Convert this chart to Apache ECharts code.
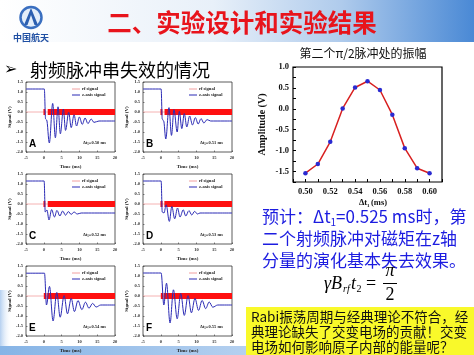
<!DOCTYPE html>
<html><head><meta charset="utf-8">
<script src="https://cdn.jsdelivr.net/npm/echarts@6/dist/echarts.min.js"></script>
<style>html,body{margin:0;padding:0;background:#fff}#c{width:474px;height:355px}</style>
</head><body><div id="c"></div>
<script>
// ---- main chart data ----
const dt1 = [0.50, 0.51, 0.52, 0.53, 0.54, 0.55, 0.56, 0.57, 0.58, 0.59, 0.60];
const amplitude = [-1.54, -1.32, -0.79, 0.01, 0.51, 0.66, 0.45, -0.14, -0.94, -1.42, -1.54];

// ---- small panels data ----
const panelLetters = ['A', 'B', 'C', 'D', 'E', 'F'];
const panelDt = ['0.50', '0.51', '0.52', '0.53', '0.54', '0.55'];

const timeA = [-5, 0.15, 0.5, 0.8, 1.55, 2.5, 3.25, 4.0, 4.65, 5.5, 6.1, 7.0, 7.7, 8.5, 9.2, 10.0, 10.8, 11.6, 12.4, 13.3, 14.1, 15.5, 20];
const signalA = [1.15, 1.15, -0.35, -0.4, -1.55, 0.43, -1.29, 0.26, -1.09, 0.15, -0.92, -0.02, -0.78, -0.14, -0.7, -0.25, -0.62, -0.3, -0.58, -0.35, -0.52, -0.45, -0.45];
const timeB = [-5, 0.1, 0.4, 0.8, 1.4, 2.3, 3.0, 3.7, 4.6, 5.2, 5.9, 6.6, 7.3, 8.1, 8.9, 9.7, 10.5, 11.3, 12.1, 13, 14, 20];
const signalB = [1.15, 1.15, -0.35, -0.45, -1.35, 0.22, -1.17, 0.12, -1.0, 0.03, -0.83, -0.08, -0.75, -0.2, -0.65, -0.28, -0.6, -0.33, -0.55, -0.38, -0.45, -0.45];
const timeC = [-5, 0.1, 0.4, 0.9, 1.45, 2.2, 3.0, 3.7, 4.5, 5.3, 6.1, 6.9, 7.7, 8.5, 9.4, 10.5, 20];
const signalC = [1.15, 1.15, -0.4, -0.3, -0.8, -0.28, -0.65, -0.32, -0.6, -0.35, -0.56, -0.38, -0.52, -0.4, -0.5, -0.45, -0.45];
const timeD = [-5, 0.1, 0.4, 0.9, 1.5, 2.4, 3.1, 3.9, 4.7, 5.4, 6.3, 7.0, 7.9, 8.7, 9.5, 10.3, 11, 20];
const signalD = [1.15, 1.15, -0.4, -0.45, -0.04, -0.87, -0.12, -0.74, -0.2, -0.65, -0.29, -0.6, -0.33, -0.55, -0.37, -0.5, -0.45, -0.45];
const timeE = [-5, 0.2, 0.75, 1.6, 2.6, 3.65, 4.6, 5.7, 6.65, 7.7, 8.6, 9.6, 10.7, 11.7, 12.7, 13.7, 14.7, 16, 20];
const signalE = [1.14, 1.14, -0.45, 0.48, -1.25, 0.18, -1.06, 0.02, -0.89, -0.12, -0.78, -0.23, -0.68, -0.31, -0.61, -0.37, -0.55, -0.45, -0.45];
const timeF = [-5, 0.1, 0.85, 1.6, 2.6, 3.55, 4.6, 5.6, 6.6, 7.65, 8.6, 9.6, 10.6, 11.6, 12.6, 13.6, 14.6, 16, 20];
const signalF = [1.15, 1.15, -0.45, 0.64, -1.35, 0.31, -1.14, 0.13, -0.97, 0.02, -0.84, -0.12, -0.72, -0.22, -0.63, -0.3, -0.56, -0.45, -0.45];

const rfPulse = [[-0.1, 0.45], [-0.1, 0.45], [-0.1, 0.45], [-0.1, 0.5], [0.0, 0.75], [0.0, 0.75]];
const rfTrain = [[1.1, 20], [1.05, 20], [1.1, 20], [1.0, 20], [0.95, 20], [0.9, 20]];
const rfBase = [-5, 20];

const panelTimes = [timeA, timeB, timeC, timeD, timeE, timeF];
const panelSignals = [signalA, signalB, signalC, signalD, signalE, signalF];

// ---- layout ----
const colLeft = [26, 143];
const rowTop = [82, 174, 266];
const pW = 89, pH = 70;

const chart = echarts.init(document.getElementById('c'), null, {renderer: 'canvas'});
const serif = "'Liberation Serif', 'Times New Roman', serif";
const cjk = "'Noto Sans CJK SC', sans-serif";

const grids = [], xAxes = [], yAxes = [], series = [], graphics = [];

// background pieces
graphics.push({
  type: 'rect', z: -10, silent: true,
  shape: {x: 0, y: 0, width: 474, height: 42},
  style: {fill: new echarts.graphic.LinearGradient(0, 0, 1, 0, [
    {offset: 0, color: '#ffffff'}, {offset: 0.45, color: '#e8f0f9'},
    {offset: 0.72, color: '#afcbec'}, {offset: 1, color: '#4a89d5'}])}
});
graphics.push({
  type: 'rect', z: -10, silent: true,
  shape: {x: 0, y: 346, width: 474, height: 9},
  style: {fill: new echarts.graphic.LinearGradient(0, 0, 1, 0, [
    {offset: 0, color: '#86b4e6'}, {offset: 1, color: '#dfeaf8'}])}
});
graphics.push({
  type: 'rect', z: -10, silent: true,
  shape: {x: 0, y: 290, width: 12, height: 56},
  style: {fill: new echarts.graphic.LinearGradient(0, 0, 1, 0, [
    {offset: 0, color: '#b5d0f0'}, {offset: 1, color: 'rgba(255,255,255,0)'}])}
});
// logo
graphics.push({type: 'circle', shape: {cx: 31, cy: 17.5, r: 10.5},
  style: {fill: '#e4eefa', stroke: '#3a6fc0', lineWidth: 2.5}});
graphics.push({type: 'polygon', shape: {points: [[31, 8], [24, 25], [27.5, 25], [31, 15], [34.5, 25], [38, 25]]},
  style: {fill: '#2c5fb0'}});
graphics.push({type: 'text', style: {x: 31, y: 38, text: '中国航天', fill: '#1f4fa3',
  font: "bold 9px " + cjk, align: 'center', verticalAlign: 'middle'}});
// header title
graphics.push({type: 'text', style: {x: 242, y: 23, text: '二、实验设计和实验结果', fill: '#e8141c',
  font: "bold 24.5px " + cjk, align: 'center', verticalAlign: 'middle'}});
// subtitle
graphics.push({type: 'text', style: {x: 4, y: 70, text: '➢', fill: '#000',
  font: "bold 16px 'DejaVu Sans'", align: 'left', verticalAlign: 'middle'}});
graphics.push({type: 'text', style: {x: 30, y: 70, text: '射频脉冲串失效的情况', fill: '#000',
  font: "18px " + cjk, align: 'left', verticalAlign: 'middle'}});
// main chart title
graphics.push({type: 'text', style: {x: 363, y: 53, text: '第二个π/2脉冲处的振幅', fill: '#111',
  font: "12px " + cjk, align: 'center', verticalAlign: 'middle'}});
// main chart x-axis name
graphics.push({type: 'text', style: {x: 359, y: 203, text: 'Δt', fill: '#111',
  font: "bold 8.5px " + serif, align: 'left', verticalAlign: 'middle'}});
graphics.push({type: 'text', style: {x: 367, y: 206, text: '1', fill: '#111',
  font: "bold 5px " + serif, align: 'left', verticalAlign: 'middle'}});
graphics.push({type: 'text', style: {x: 371, y: 203, text: '(ms)', fill: '#111',
  font: "bold 8.5px " + serif, align: 'left', verticalAlign: 'middle'}});
// right blue text
const blue = '#1c1ce0';
graphics.push({type: 'text', style: {x: 262, y: 217, text: '{a|预计：Δt}{s|1}{a|=0.525 ms时，第}',
  verticalAlign: 'middle', align: 'left',
  rich: {a: {fontFamily: cjk, fontSize: 17, fill: blue, lineHeight: 20, verticalAlign: 'middle'},
         s: {fontFamily: cjk, fontSize: 10, fill: blue, lineHeight: 20, verticalAlign: 'bottom'}}}});
graphics.push({type: 'text', style: {x: 262, y: 239, text: '二个射频脉冲对磁矩在z轴', fill: blue,
  font: "17px " + cjk, align: 'left', verticalAlign: 'middle'}});
graphics.push({type: 'text', style: {x: 262, y: 261, text: '分量的演化基本失去效果。', fill: blue,
  font: "17px " + cjk, align: 'left', verticalAlign: 'middle'}});
// formula
const fm = "italic 18px " + serif;
graphics.push({type: 'text', style: {x: 324, y: 284, text: 'γB', fill: '#000', font: fm, verticalAlign: 'middle'}});
graphics.push({type: 'text', style: {x: 343, y: 289, text: 'rf', fill: '#000', font: "italic 10px " + serif, verticalAlign: 'middle'}});
graphics.push({type: 'text', style: {x: 351, y: 284, text: 't', fill: '#000', font: fm, verticalAlign: 'middle'}});
graphics.push({type: 'text', style: {x: 356.5, y: 289, text: '2', fill: '#000', font: "10px " + serif, verticalAlign: 'middle'}});
graphics.push({type: 'text', style: {x: 366, y: 284, text: '=', fill: '#000', font: "18px " + serif, verticalAlign: 'middle'}});
graphics.push({type: 'text', style: {x: 390, y: 271, text: 'π', fill: '#000', font: fm, align: 'center', verticalAlign: 'middle'}});
graphics.push({type: 'line', shape: {x1: 383, y1: 283.5, x2: 397, y2: 283.5}, style: {stroke: '#000', lineWidth: 1}});
graphics.push({type: 'text', style: {x: 390, y: 295, text: '2', fill: '#000', font: "18px " + serif, align: 'center', verticalAlign: 'middle'}});
// yellow box
graphics.push({type: 'rect', shape: {x: 246, y: 307, width: 228, height: 48}, style: {fill: '#f9f92a'}});
const yl = ['Rabi振荡周期与经典理论不符合，经', '典理论缺失了交变电场的贡献！交变', '电场如何影响原子内部的能量呢？'];
yl.forEach((t, i) => graphics.push({type: 'text', style: {x: 251, y: 317 + i * 15, text: t, fill: '#111',
  font: "13.5px " + cjk, align: 'left', verticalAlign: 'middle'}}));

// ---- small panels ----
const tinyLabel = {fontSize: 4.5, fontFamily: serif, fontWeight: 'bold', color: '#333'};
for (let i = 0; i < 6; i++) {
  const left = colLeft[i % 2], top = rowTop[Math.floor(i / 2)];
  grids.push({left: left, top: top, width: pW, height: pH, show: true, borderColor: '#333', borderWidth: 0.8, backgroundColor: 'transparent'});
  xAxes.push({gridIndex: i, type: 'value', min: -5, max: 20, interval: 5, position: 'bottom',
    axisLine: {show: false, onZero: false}, splitLine: {show: false},
    axisTick: {inside: true, length: 1.5, lineStyle: {color: '#333', width: 0.6}},
    axisLabel: Object.assign({margin: 3}, tinyLabel),
    name: 'Time (ms)', nameLocation: 'middle', nameGap: 12,
    nameTextStyle: {fontSize: 5, fontFamily: serif, fontWeight: 'bold', color: '#222'}});
  yAxes.push({gridIndex: i, type: 'value', min: -2, max: 1.5, interval: 0.5, position: 'left',
    axisLine: {show: false, onZero: false}, splitLine: {show: false},
    axisTick: {inside: true, length: 1.5, lineStyle: {color: '#333', width: 0.6}},
    axisLabel: Object.assign({margin: 3, formatter: v => v.toFixed(1)}, tinyLabel),
    name: 'Signal (V)', nameLocation: 'middle', nameGap: 13, nameRotate: 90,
    nameTextStyle: {fontSize: 5, fontFamily: serif, fontWeight: 'bold', color: '#222'}});
  series.push({type: 'line', xAxisIndex: i, yAxisIndex: i, silent: true, showSymbol: false, z: 2,
    data: [[rfBase[0], 0], [rfBase[1], 0]], lineStyle: {color: '#f2a0a0', width: 0.8}});
  series.push({type: 'line', xAxisIndex: i, yAxisIndex: i, silent: true, showSymbol: false, z: 3,
    data: [[rfPulse[i][0], 0], [rfPulse[i][1], 0]], lineStyle: {color: '#ff1010', width: 6, cap: 'butt'}});
  series.push({type: 'line', xAxisIndex: i, yAxisIndex: i, silent: true, showSymbol: false, z: 3,
    data: [[rfTrain[i][0], 0], [rfTrain[i][1], 0]], lineStyle: {color: '#ff1010', width: 6, cap: 'butt'}});
  series.push({type: 'line', xAxisIndex: i, yAxisIndex: i, silent: true, showSymbol: false, z: 4,
    smooth: 0.35, smoothMonotone: 'x',
    data: panelTimes[i].map((t, k) => [t, panelSignals[i][k]]),
    lineStyle: {color: '#2b2bb5', width: 1}});
  // legend
  graphics.push({type: 'line', shape: {x1: left + 46, y1: top + 7, x2: left + 54, y2: top + 7}, style: {stroke: '#f2a0a0', lineWidth: 1}});
  graphics.push({type: 'line', shape: {x1: left + 46, y1: top + 13, x2: left + 54, y2: top + 13}, style: {stroke: '#2b2bb5', lineWidth: 1}});
  graphics.push({type: 'text', style: {x: left + 56, y: top + 7, text: 'rf signal', fill: '#222',
    font: "bold 4.5px " + serif, verticalAlign: 'middle'}});
  graphics.push({type: 'text', style: {x: left + 56, y: top + 13, text: 'z-axis signal', fill: '#222',
    font: "bold 4.5px " + serif, verticalAlign: 'middle'}});
  graphics.push({type: 'text', style: {x: left + 3, y: top + 62, text: panelLetters[i], fill: '#000',
    font: "bold 10px 'Liberation Sans', Arial, sans-serif", verticalAlign: 'middle'}});
  graphics.push({type: 'text', style: {x: left + 57, y: top + 61,
    text: '{a|Δt}{s|1}{a|=' + panelDt[i] + ' ms}', verticalAlign: 'middle',
    rich: {a: {fontSize: 4.5, fontFamily: serif, fontWeight: 'bold', fill: '#222', lineHeight: 6},
           s: {fontSize: 3, fontFamily: serif, fontWeight: 'bold', fill: '#222', lineHeight: 6, verticalAlign: 'bottom'}}}});
}

// ---- main chart ----
const mi = 6;
grids.push({left: 293, top: 67, width: 149, height: 115, show: true, borderColor: '#000', borderWidth: 1.2, backgroundColor: 'transparent'});
const mainLabel = {fontSize: 8.5, fontFamily: serif, fontWeight: 'bold', color: '#111'};
xAxes.push({gridIndex: mi, type: 'value', min: 0.49, max: 0.61, interval: 0.01, position: 'bottom',
  axisLine: {show: false, onZero: false}, splitLine: {show: false},
  axisTick: {inside: true, length: 3, lineStyle: {color: '#000'}},
  axisLabel: Object.assign({margin: 5, showMinLabel: true, showMaxLabel: true,
    formatter: v => (Math.round(v * 100) % 2 === 0 ? v.toFixed(2) : '')}, mainLabel)});
yAxes.push({gridIndex: mi, type: 'value', min: -1.75, max: 1.0, interval: 0.25, position: 'left',
  axisLine: {show: false, onZero: false}, splitLine: {show: false},
  axisTick: {inside: true, length: 3, lineStyle: {color: '#000'}},
  axisLabel: Object.assign({margin: 4,
    formatter: v => (Math.abs(Math.round(v * 4)) % 2 === 0 ? v.toFixed(1) : '')}, mainLabel),
  name: 'Amplitude (V)', nameLocation: 'middle', nameGap: 26, nameRotate: 90,
  nameTextStyle: {fontSize: 10, fontFamily: serif, fontWeight: 'bold', color: '#111'}});
series.push({type: 'line', xAxisIndex: mi, yAxisIndex: mi, silent: true,
  data: dt1.map((x, k) => [x, amplitude[k]]),
  symbol: 'circle', symbolSize: 4.5, showSymbol: true,
  itemStyle: {color: '#2a2ad0', borderWidth: 0},
  lineStyle: {color: '#d82020', width: 1.5}, z: 5});

chart.setOption({
  animation: false,
  backgroundColor: '#ffffff',
  grid: grids, xAxis: xAxes, yAxis: yAxes, series: series,
  graphic: {elements: graphics}
});
</script>
</body></html>
